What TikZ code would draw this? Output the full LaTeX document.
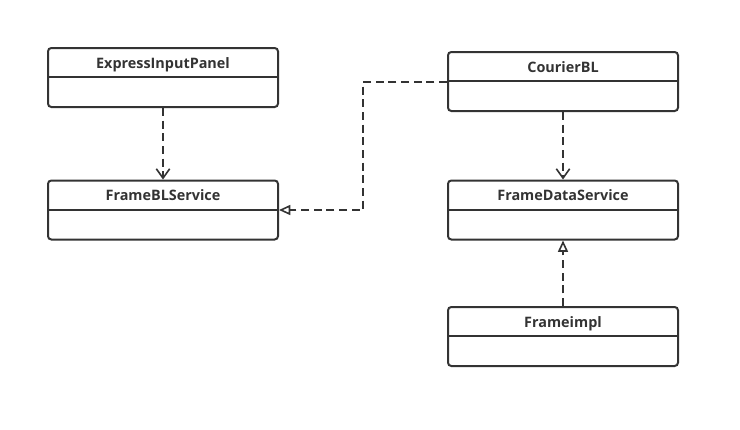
\documentclass[tikz,border=0pt]{standalone}
\usepackage{fontspec}
\setmainfont{Open Sans}
\usetikzlibrary{arrows.meta}
\definecolor{ink}{HTML}{333333}
\tikzset{
  classbox/.style={draw=ink, line width=1.5pt, rounded corners=2.5pt,
    minimum width=230*0.75pt, minimum height=59*0.75pt, inner sep=0pt},
  classname/.style={font=\bfseries\fontsize{10.8}{12}\selectfont, text=ink,
    anchor=base, inner sep=0pt},
  dep/.style={draw=ink, line width=1.2pt, dash pattern=on 6pt off 3.5pt,
    -{Straight Barb[length=7pt,width=10pt,line width=1.2pt]}},
  real/.style={draw=ink, line width=1.2pt, dash pattern=on 6pt off 3.5pt,
    -{Triangle[open,length=8.5pt,width=7.5pt,line width=1.2pt]}}
}
\newcommand{\umlclass}[3]{%
  \node[classbox] (#1) at (#2) {};
  \draw[ink, line width=1.5pt] ([yshift=-22.5pt]#1.north west) -- ([yshift=-22.5pt]#1.north east);
  \node[classname] (#1-name) at ([yshift=-16pt]#1.north) {#3};
}
\begin{document}
\begin{tikzpicture}[x=0.75pt,y=-0.75pt]
\useasboundingbox (0,0) rectangle (740,429);
\umlclass{eip}{163,77.5}{ExpressInputPanel}
\umlclass{fbl}{163,210}{FrameBLService}
\umlclass{cbl}{563,81.5}{CourierBL}
\umlclass{fds}{563,210}{FrameDataService}
\umlclass{fim}{563,336.5}{Frameimpl}
\coordinate (bend1) at (363,82);
\coordinate (bend2) at (363,210);
\draw[dep] (eip.south) -- (fbl.north);
\draw[dep] (cbl.south) -- (fds.north);
\draw[real] (fim.north) -- (fds.south);
\draw[real] (cbl.west |- bend1) -- (bend1) -- (bend2) -- (fbl.east |- bend2);
\end{tikzpicture}
\end{document}
